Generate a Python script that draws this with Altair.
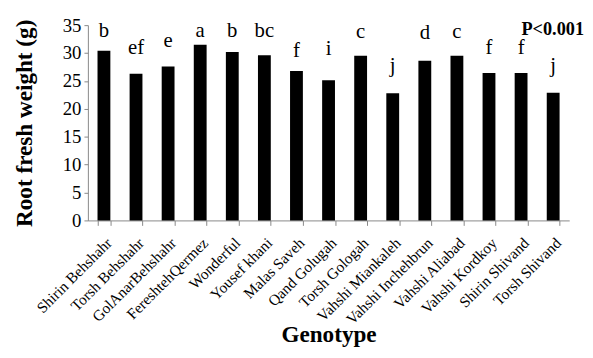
import altair as alt
import pandas as pd

genotypes = ["Shirin Behshahr", "Torsh Behshahr", "GolAnarBehshahr", "FereshtehQermez",
             "Wonderful", "Yousef khani", "Malas Saveh", "Qand Golugah", "Torsh Gologah",
             "Vahshi Miankaleh", "Vahshi Inchehbrun", "Vahshi Aliabad", "Vahshi  Kordkoy",
             "Shirin Shivand", "Torsh Shivand"]
weights = [30.4, 26.3, 27.6, 31.5, 30.2, 29.6, 26.8, 25.1, 29.5, 22.8, 28.6, 29.5, 26.4, 26.4, 22.9]
letters = ["b", "ef", "e", "a", "b", "bc", "f", "i", "c", "j", "d", "c", "f", "f", "j"]
letter_y = [32.9, 29.9, 31.1, 32.9, 32.9, 32.9, 29.2, 29.7, 32.7, 26.6, 32.5, 32.7, 29.9, 29.9, 26.6]
y_ticks = [0, 5, 10, 15, 20, 25, 30, 35]

df = pd.DataFrame({"g": genotypes, "w": weights, "l": letters, "ly": letter_y})

W, H = 488, 198
FONT = "Liberation Serif"

x_scale = alt.Scale(paddingInner=0.6, paddingOuter=0.3)
y_scale = alt.Scale(domain=[0, 35])
x_axis = alt.Axis(labelAngle=-45, labelAlign="right", labelBaseline="top", tickBand="extent")
y_axis = alt.Axis(values=y_ticks, grid=False)

bars = alt.Chart(df).mark_bar(color="black").encode(
    x=alt.X("g:N", sort=genotypes, title="Genotype", scale=x_scale, axis=x_axis),
    y=alt.Y("w:Q", title="Root fresh weight (g)", scale=y_scale, axis=y_axis))
labels = alt.Chart(df).mark_text(font=FONT, fontSize=21, baseline="alphabetic", color="black").encode(
    x=alt.X("g:N", sort=genotypes, title="Genotype", scale=x_scale, axis=x_axis),
    y=alt.Y("ly:Q", title="Root fresh weight (g)", scale=y_scale, axis=y_axis),
    text="l:N")
ptext = alt.Chart(pd.DataFrame({"t": ["P<0.001"]})).mark_text(
    font=FONT, fontSize=18.5, fontWeight="bold", align="right", baseline="alphabetic", color="black"
).encode(x=alt.value(W + 15), y=alt.value(10), text="t:N")

chart = alt.layer(bars, labels, ptext).properties(
    width=W, height=H,
    autosize=alt.AutoSizeParams(type="none"),
    padding={"left": 81, "top": 15, "right": 16, "bottom": 129},
).configure(font=FONT).configure_view(stroke=None).configure_axis(
    labelFont=FONT, titleFont=FONT, labelColor="black", titleColor="black",
    tickColor="#888", domainColor="#888", titleFontWeight="bold", titleFontSize=23.5,
    labelOverlap=False, labelLimit=200,
).configure_axisX(
    labelFontSize=15.5, tickSize=5, labelPadding=10, titleY=123, titleBaseline="alphabetic",
).configure_axisY(
    labelFontSize=19, tickSize=4, labelPadding=3, titlePadding=26, labelFlush=False,
)

chart.save("out.html", embed_options={"renderer": "svg", "actions": False})
